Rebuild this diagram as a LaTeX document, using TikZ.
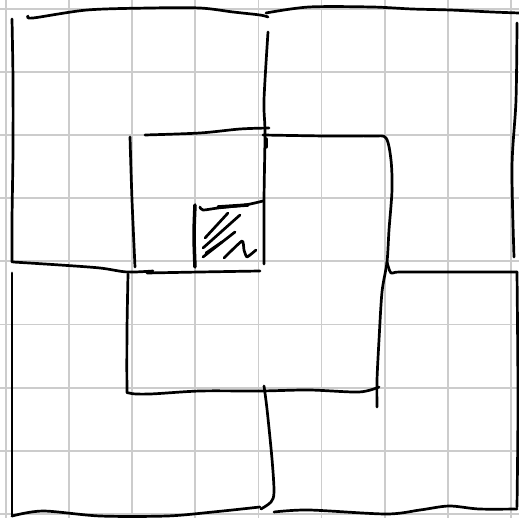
\documentclass[tikz,border=0pt]{standalone}
\usepackage{tikz}

\tikzset{
  gridline/.style={draw=gray!40, line width=1.8pt},
  pen/.style={black, line width=2.7pt, line cap=round, line join=round},
  thickpen/.style={black, line width=3.5pt, line cap=round, line join=round}
}

\begin{document}
\begin{tikzpicture}[x=1pt, y=-1pt]
\useasboundingbox (0,0) rectangle (519,518);
% Squared paper
\foreach \i in {0,...,8} {
  \draw[gridline] (6+63.1*\i,0) -- (6+63.1*\i,518);
  \draw[gridline] (0,9+63.1*\i) -- (519,9+63.1*\i);
}
% Outer square, top edge
\draw[pen] plot[smooth] coordinates {(28,16) (33,18) (87,10) (150,8) (200,8) (233,12) (260,15) (268,17)};
\draw[pen] plot[smooth] coordinates {(266,13) (309,7) (372,7) (412,9) (450,10) (492,12) (519,13)};
% Outer square, left edge
\draw[pen] plot[smooth] coordinates {(12,19) (13,80) (13,150) (12,220) (12,262)};
\draw[pen] plot[smooth] coordinates {(12,273) (12,350) (12,430) (12,516)};
% Outer square, right edge
\draw[pen] plot[smooth] coordinates {(517,23) (516,100) (512,167) (514,257)};
\draw[pen] plot[smooth] coordinates {(517,272) (518,400) (517,507)};
% Outer square, bottom edge
\draw[pen] plot[smooth] coordinates {(12,516) (43,511) (100,516) (167,516) (213,512) (260,507)};
\draw[pen] plot[smooth] coordinates {(274,512) (309,510) (386,514) (420,510) (449,506) (479,509) (517,509)};
% Inner walls, top left
\draw[pen] plot[smooth] coordinates {(13,262) (60,265) (100,268) (127,272) (153,271)};
\draw[pen] plot[smooth] coordinates {(130,137) (132,200) (135,267)};
\draw[pen] plot[smooth] coordinates {(145,135) (200,133) (240,129) (269,128)};
% Centre wall
\draw[pen] plot[smooth] coordinates {(268,32) (264,100) (265,133) (264,200) (264,264)};
\draw[thickpen] (266,139) -- (266,147);
% Middle square
\draw[pen] plot[smooth] coordinates {(263,135) (326,136) (372,136) (386,138) (391,160) (392,190) (389,230) (387,262) (382,292) (379,340) (377,380) (377,407)};
\draw[pen] plot[smooth] coordinates {(387,262) (391,273) (400,272) (459,272) (517,272)};
\draw[pen] plot[smooth] coordinates {(128,274) (127,330) (127,386) (129,393) (150,394) (200,391) (260,391) (309,390) (359,392) (379,387)};
% Bottom centre wall
\draw[pen] plot[smooth] coordinates {(264,386) (267,409) (272,459) (274,492) (271,502) (261,509)};
% Small hatched square
\draw[thickpen] plot[smooth] coordinates {(195,205) (194,235) (195,267)};
\draw[pen] plot[smooth] coordinates {(200,207) (203,210) (218,208) (245,205) (263,201)};
\draw[thickpen] (218,207) -- (248,205);
\draw[pen] plot[smooth] coordinates {(147,273) (200,272) (260,271)};
\draw[pen] (205,238) -- (228,213);
\draw[pen] (203,248) -- (240,215);
\draw[pen] (203,257) -- (235,232);
\draw[pen] (206,253) -- (222,242);
\draw[pen] plot[smooth, tension=0.3] coordinates {(224,258) (242,241) (244,250) (247,257) (256,250)};
\end{tikzpicture}
\end{document}
